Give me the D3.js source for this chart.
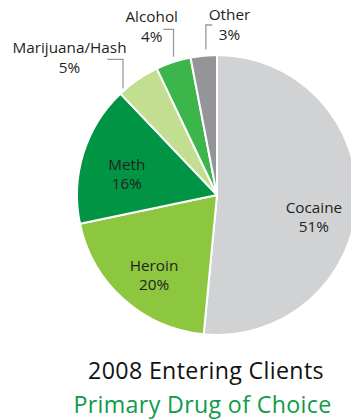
<!DOCTYPE html>
<html>
<head>
<meta charset="utf-8">
<script src="https://cdn.jsdelivr.net/npm/d3@7"></script>
<style>
  html, body { margin: 0; padding: 0; background: #fff; }
  svg { display: block; }
  text { font-family: "Open Sans", "Noto Sans", sans-serif; }
</style>
</head>
<body>
<svg id="chart" width="351" height="419"></svg>
<script>
// Primary drug of choice, share of entering clients (%)
const categories = ["Cocaine", "Heroin", "Meth", "Marijuana/Hash", "Alcohol", "Other"];
const percents   = [51, 20, 16, 5, 4, 3];
const sliceColors = ["#d1d2d4", "#8dc63f", "#009444", "#c2df91", "#3cb54a", "#939598"];
const titleLines = ["2008 Entering Clients", "Primary Drug of Choice"];

const cx = 217, cy = 195, R = 140;
const fs = 15.3;

const svg = d3.select("#chart");
const g = svg.append("g").attr("transform", `translate(${cx},${cy})`);

const rows = categories.map((c, i) => ({ name: c, value: percents[i] }));

const pie = d3.pie().value(d => d.value).sort(null);
const arcs = pie(rows);

const color = d3.scaleOrdinal().domain(categories).range(sliceColors);
const arc = d3.arc().innerRadius(0).outerRadius(R);

g.selectAll("path.slice")
  .data(arcs)
  .join("path")
  .attr("class", "slice")
  .attr("d", arc)
  .attr("fill", d => color(d.data.name))
  .attr("stroke", "#fff")
  .attr("stroke-width", 2)
  .attr("stroke-linejoin", "round");

// Two-line label: name above, percentage below
function addLabel(sel, d, gap) {
  sel.append("text")
    .attr("text-anchor", "middle")
    .attr("font-size", fs)
    .attr("fill", "#231f20")
    .attr("y", 0)
    .text(d.data.name);
  sel.append("text")
    .attr("text-anchor", "middle")
    .attr("font-size", fs)
    .attr("fill", "#231f20")
    .attr("y", gap)
    .text(d.data.value + "%");
}

// Labels inside the large slices
const insideNames = ["Cocaine", "Heroin", "Meth"];
const labelArc = d3.arc().innerRadius(96).outerRadius(96);
const insideNudge = { Cocaine: [1, 9.5], Heroin: [1, 0], Meth: [1.5, 0] };

arcs.filter(d => insideNames.includes(d.data.name)).forEach(d => {
  const [x, y] = labelArc.centroid(d);
  const n = insideNudge[d.data.name];
  const t = g.append("g").attr("transform", `translate(${x + n[0]},${y + n[1] + 4})`);
  addLabel(t, d, 19);
});

// Labels outside the thin slices, joined by elbow leader lines
const outsideLayout = {
  "Marijuana/Hash": { frac: 0.12, r0: 142, tx: -147.5, ty: -142.3, elbowY: -135.7, lineEnd: -109.7 },
  "Alcohol":        { frac: 0.55, r0: 145, tx: -65.3,  ty: -172.7, elbowY: -165.7, lineEnd: -53.7 },
  "Other":          { frac: 0.6,  r0: 146, tx: 12.5,   ty: -175,   elbowY: -170,   lineEnd: -4.7 }
};

arcs.filter(d => outsideLayout[d.data.name]).forEach(d => {
  const L = outsideLayout[d.data.name];
  const a = d.startAngle + L.frac * (d.endAngle - d.startAngle);
  const x0 = L.r0 * Math.sin(a), y0 = -L.r0 * Math.cos(a);
  g.append("polyline")
    .attr("points", [[x0, y0], [x0, L.elbowY], [L.lineEnd, L.elbowY]].map(p => p.join(",")).join(" "))
    .attr("fill", "none")
    .attr("stroke", "#9a9a9c")
    .attr("stroke-width", 1.3);
  const t = g.append("g").attr("transform", `translate(${L.tx},${L.ty})`);
  addLabel(t, d, 20);
});

// Title block
svg.append("text")
  .attr("x", 206).attr("y", 379.3)
  .attr("text-anchor", "middle")
  .attr("font-size", 23.2)
  .attr("letter-spacing", 0.35)
  .attr("fill", "#111")
  .text(titleLines[0]);
svg.append("text")
  .attr("x", 202.5).attr("y", 413.3)
  .attr("text-anchor", "middle")
  .attr("font-size", 23.2)
  .attr("letter-spacing", 0.35)
  .attr("fill", "#0f9b49")
  .text(titleLines[1]);
</script>
</body>
</html>
